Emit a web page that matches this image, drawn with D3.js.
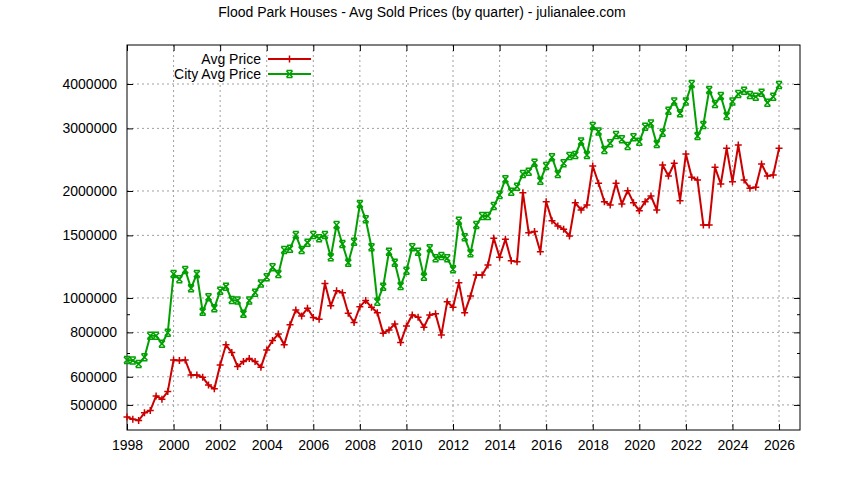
<!DOCTYPE html>
<html>
<head>
<meta charset="utf-8">
<script src="https://cdn.jsdelivr.net/npm/d3@7"></script>
<style>
  body { margin: 0; background: #fff; }
  text { font-family: "Liberation Sans", Arial, sans-serif; }
</style>
</head>
<body>
<svg id="chart"></svg>
<script>
// quarterly, starting 1998 Q1
var startYear = 1998;

var avgPrice = [
  462000, 456000, 452000, 475000, 482000, 530000, 519000, 545000, 669000, 667000,
  669000, 607000, 607000, 598000, 569000, 555000, 648000, 738000, 702000, 641000,
  662000, 676000, 662000, 638000, 714000, 759000, 792000, 738000, 840000, 925000,
  890000, 936000, 881000, 871000, 1099000, 950000, 1048000, 1035000, 906000, 853000,
  945000, 983000, 941000, 909000, 796000, 813000, 845000, 749000, 834000, 896000,
  882000, 827000, 896000, 902000, 787000, 976000, 941000, 1104000, 909000, 1013000,
  1161000, 1161000, 1238000, 1472000, 1302000, 1462000, 1273000, 1265000, 1978000, 1526000,
  1537000, 1349000, 1866000, 1650000, 1594000, 1560000, 1494000, 1853000, 1768000, 1826000,
  2350000, 2102000, 1866000, 1826000, 2102000, 1838000, 2004000, 1853000, 1760000, 1866000,
  1935000, 1768000, 2366000, 2204000, 2393000, 1878000, 2541000, 2185000, 2147000, 1604000,
  1604000, 2331000, 2093000, 2636000, 2124000, 2694000, 2147000, 2035000, 2048000, 2383000,
  2204000, 2218000, 2636000
];

var cityAvgPrice = [
  669000, 667000, 652000, 681000, 783000, 783000, 743000, 798000, 1168000, 1129000,
  1199000, 1065000, 1168000, 915000, 1005000, 936000, 1048000, 1076000, 987000, 983000,
  902000, 983000, 1035000, 1099000, 1143000, 1220000, 1168000, 1365000, 1376000, 1503000,
  1365000, 1431000, 1503000, 1472000, 1503000, 1302000, 1604000, 1419000, 1257000, 1439000,
  1838000, 1665000, 1389000, 976000, 1076000, 1349000, 1257000, 1081000, 1193000, 1389000,
  1349000, 1148000, 1380000, 1293000, 1313000, 1293000, 1204000, 1650000, 1481000, 1336000,
  1604000, 1701000, 1701000, 1815000, 1949000, 2158000, 1990000, 2056000, 2233000, 2266000,
  2402000, 2138000, 2350000, 2488000, 2233000, 2393000, 2508000, 2525000, 2754000, 2525000,
  3047000, 2938000, 2608000, 2725000, 2874000, 2796000, 2677000, 2832000, 2753000, 3033000,
  3098000, 2711000, 2918000, 3365000, 3570000, 3307000, 3570000, 4000000, 2855000, 3066000,
  3846000, 3513000, 3698000, 3251000, 3570000, 3749000, 3829000, 3724000, 3683000, 3780000,
  3542000, 3683000, 3972000
];

var xTicks = [1998, 2000, 2002, 2004, 2006, 2008, 2010, 2012, 2014, 2016, 2018, 2020, 2022, 2024, 2026];
var yTicks = [500000, 600000, 800000, 1000000, 1500000, 2000000, 3000000, 4000000];
var yMinorTicks = [700000, 900000];

var width = 844, height = 480;
var plotLeft = 127, plotRight = 800, plotTop = 45, plotBottom = 430;

var svg = d3.select('#chart').attr('width', width).attr('height', height);

var x = d3.scaleLinear().domain([1998, 2026.9]).range([plotLeft, plotRight]);
var y = d3.scaleLog().domain([425000, 5150000]).range([plotBottom, plotTop]);

// grid
var grid = svg.append('g').attr('stroke', '#a0a0a0').attr('stroke-dasharray', '2,3').attr('stroke-width', 1);
xTicks.forEach(function(t) {
  if (t === 1998) return;
  grid.append('line').attr('x1', x(t)).attr('x2', x(t)).attr('y1', plotTop).attr('y2', plotBottom);
});
yTicks.forEach(function(t) {
  grid.append('line').attr('x1', plotLeft).attr('x2', plotRight).attr('y1', y(t)).attr('y2', y(t));
});

// axes
svg.append('g').attr('transform', 'translate(0,' + plotBottom + ')')
  .call(d3.axisBottom(x).tickValues(xTicks).tickFormat(d3.format('d')).tickSizeInner(-6).tickSizeOuter(0).tickPadding(10));
svg.append('g').attr('transform', 'translate(0,' + plotTop + ')')
  .call(d3.axisTop(x).tickValues(xTicks).tickFormat('').tickSizeInner(-6).tickSizeOuter(0));
svg.append('g').attr('transform', 'translate(' + plotLeft + ',0)')
  .call(d3.axisLeft(y).tickValues(yTicks).tickFormat(d3.format('d')).tickSizeInner(-6).tickSizeOuter(0).tickPadding(10));
svg.append('g').attr('transform', 'translate(' + plotRight + ',0)')
  .call(d3.axisRight(y).tickValues(yTicks).tickFormat('').tickSizeInner(-6).tickSizeOuter(0));
svg.append('g').attr('transform', 'translate(' + plotLeft + ',0)')
  .call(d3.axisLeft(y).tickValues(yMinorTicks).tickFormat('').tickSizeInner(-3).tickSizeOuter(0));
svg.append('g').attr('transform', 'translate(' + plotRight + ',0)')
  .call(d3.axisRight(y).tickValues(yMinorTicks).tickFormat('').tickSizeInner(-3).tickSizeOuter(0));
svg.selectAll('.domain').remove();
svg.selectAll('.tick text').attr('font-size', 14).attr('fill', '#000')
  .style('font-family', '"Liberation Sans", Arial, sans-serif');

svg.append('rect').attr('x', plotLeft).attr('y', plotTop).attr('width', plotRight - plotLeft).attr('height', plotBottom - plotTop)
  .attr('fill', 'none').attr('stroke', '#000').attr('stroke-width', 1);

// title
svg.append('text').attr('x', 422).attr('y', 17).attr('text-anchor', 'middle').attr('font-size', 14)
  .text('Flood Park Houses - Avg Sold Prices (by quarter) - julianalee.com');

function plus(g, cx, cy, c) {
  g.append('path').attr('d', 'M' + (cx - 3.5) + ',' + cy + 'H' + (cx + 3.5) + 'M' + cx + ',' + (cy - 3.5) + 'V' + (cy + 3.5))
    .attr('stroke', c).attr('stroke-width', 1.5);
}
function cross(g, cx, cy, c) {
  g.append('path').attr('d', 'M' + (cx - 3) + ',' + (cy - 3) + 'L' + (cx + 3) + ',' + (cy + 3) +
    'M' + (cx - 3) + ',' + (cy + 3) + 'L' + (cx + 3) + ',' + (cy - 3) +
    'M' + (cx - 3) + ',' + (cy - 3.5) + 'H' + (cx + 3) + 'M' + (cx - 3) + ',' + (cy + 3.5) + 'H' + (cx + 3))
    .attr('stroke', c).attr('stroke-width', 1.5);
}

var line = d3.line()
  .x(function(d, i) { return x(startYear + i / 4); })
  .y(function(d) { return y(d); });

function drawSeries(data, color, marker) {
  var g = svg.append('g');
  g.append('path').datum(data).attr('d', line).attr('fill', 'none').attr('stroke', color).attr('stroke-width', 2);
  data.forEach(function(d, i) { marker(g, x(startYear + i / 4), y(d), color); });
}

drawSeries(cityAvgPrice, '#00a000', cross);
drawSeries(avgPrice, '#cc0000', plus);

// legend
var legend = [
  { label: 'Avg Price', color: '#cc0000', marker: plus, y: 59 },
  { label: 'City Avg Price', color: '#00a000', marker: cross, y: 74 }
];
legend.forEach(function(l) {
  svg.append('text').attr('x', 261).attr('y', l.y + 5).attr('text-anchor', 'end').attr('font-size', 14).text(l.label);
  svg.append('line').attr('x1', 268).attr('x2', 311).attr('y1', l.y).attr('y2', l.y).attr('stroke', l.color).attr('stroke-width', 2);
  l.marker(svg, 289.5, l.y, l.color);
});
</script>
</body>
</html>
